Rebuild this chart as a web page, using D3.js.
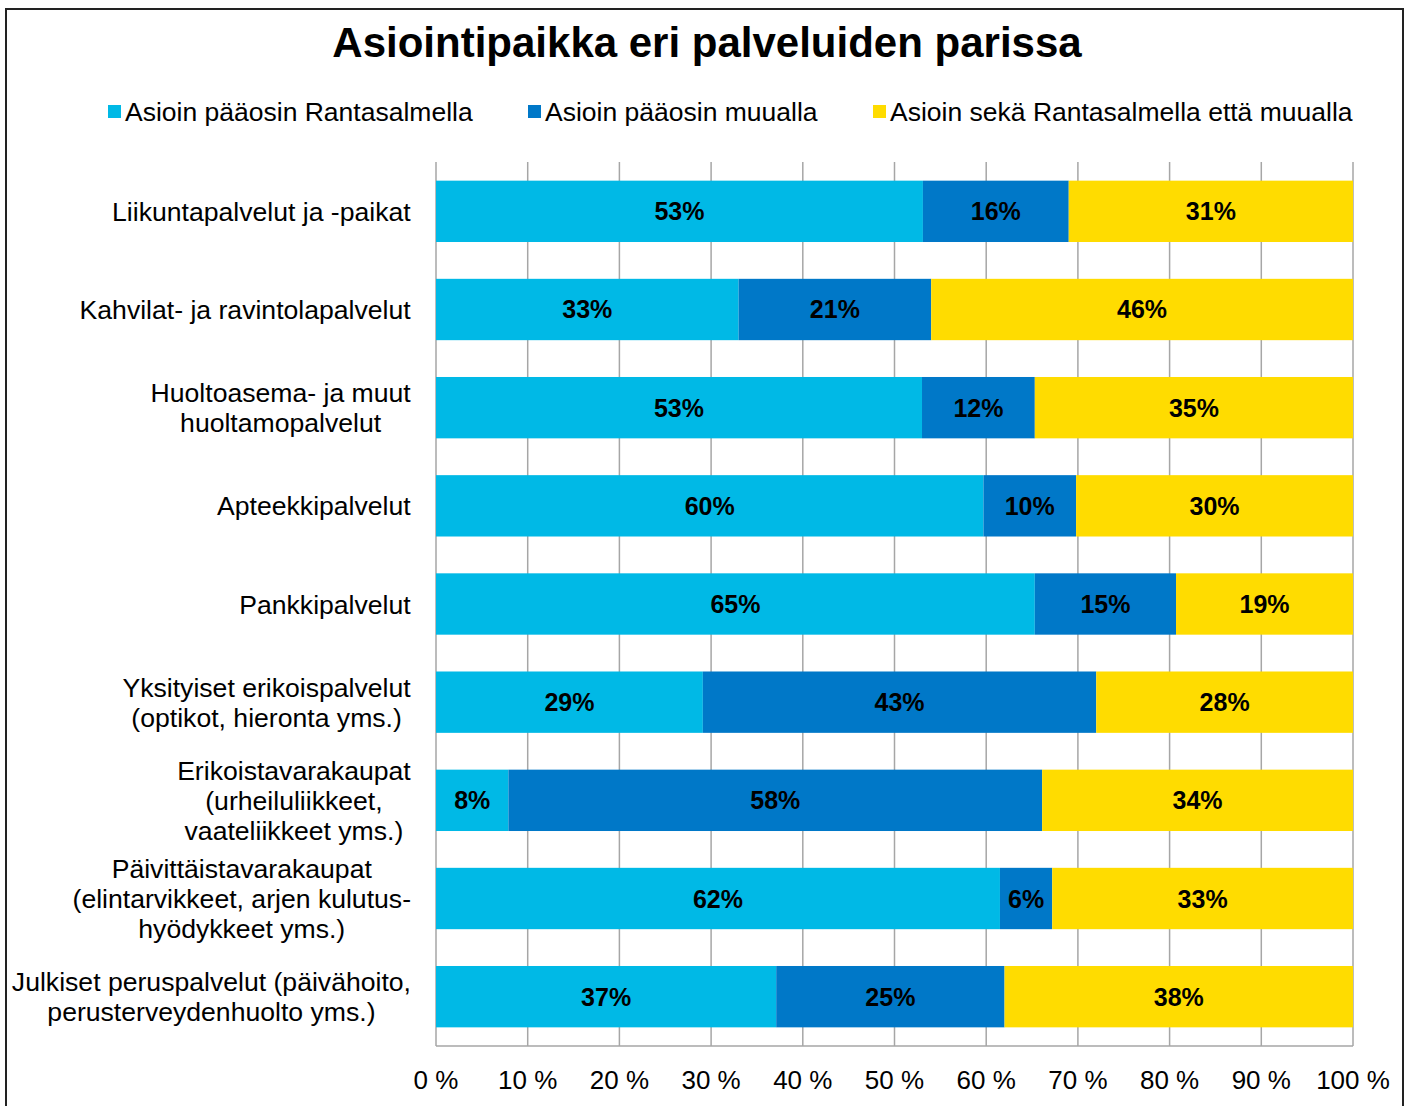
<!DOCTYPE html>
<html>
<head>
<meta charset="utf-8">
<script src="https://cdn.jsdelivr.net/npm/d3@7"></script>
<style>
  body { margin: 0; background: #fff; }
  svg text { font-family: "Liberation Sans", Arial, sans-serif; fill: #000; }
</style>
</head>
<body>
<div id="viz"></div>
<script>
// categories, top to bottom
const categories = [
    "Liikuntapalvelut ja -paikat",
    "Kahvilat- ja ravintolapalvelut",
    "Huoltoasema- ja muut|huoltamopalvelut",
    "Apteekkipalvelut",
    "Pankkipalvelut",
    "Yksityiset erikoispalvelut|(optikot, hieronta yms.)",
    "Erikoistavarakaupat|(urheiluliikkeet,|vaateliikkeet yms.)",
    "Päivittäistavarakaupat|(elintarvikkeet, arjen kulutus-|hyödykkeet yms.)",
    "Julkiset peruspalvelut (päivähoito,|perusterveydenhuolto yms.)"
];
const seriesNames = [
    "Asioin pääosin Rantasalmella",
    "Asioin pääosin muualla",
    "Asioin sekä Rantasalmella että muualla"
];
const rantasalmi = [53.1, 33.0, 53.0, 59.7, 65.3, 29.1, 7.9, 61.5, 37.1];
const muualla    = [15.9, 21.0, 12.3, 10.1, 15.4, 42.9, 58.2, 5.7, 24.9];
const molemmat   = [31.0, 46.0, 34.7, 30.2, 19.3, 28.0, 33.9, 32.8, 38.0];
const colors = ["#00B9E6", "#0078C8", "#FFDC00"];
const ticks = [0, 10, 20, 30, 40, 50, 60, 70, 80, 90, 100];

const width = 1409, height = 1106;

const rows = categories.map((c, i) => ({
    name: c, s0: rantasalmi[i], s1: muualla[i], s2: molemmat[i]
}));

const svg = d3.select("#viz").append("svg")
    .attr("width", width)
    .attr("height", height);

// chart frame
svg.append("rect")
    .attr("x", 6).attr("y", 9)
    .attr("width", 1397).attr("height", 1110)
    .attr("fill", "none")
    .attr("stroke", "#222")
    .attr("stroke-width", 2);

svg.append("text")
    .attr("x", 707).attr("y", 57)
    .attr("text-anchor", "middle")
    .attr("font-size", 42)
    .attr("font-weight", "bold")
    .text("Asiointipaikka eri palveluiden parissa");

// legend
const legendX = [108, 528, 873];
const legend = svg.append("g").selectAll("g")
    .data(seriesNames)
    .enter().append("g")
    .attr("transform", (d, i) => `translate(${legendX[i]},111)`);
legend.append("rect")
    .attr("x", 0).attr("y", -6)
    .attr("width", 13).attr("height", 13)
    .attr("fill", (d, i) => colors[i]);
legend.append("text")
    .attr("x", 17).attr("dy", "0.36em")
    .attr("font-size", 26.5)
    .text(d => d);

const x = d3.scaleLinear().domain([0, 100]).range([436, 1353]);
const y = d3.scaleBand().domain(categories).range([162, 1046]).paddingInner(0.375).paddingOuter(0.19);

// grid
const grid = svg.append("g")
    .attr("stroke", "#a6a6a6")
    .attr("stroke-width", 1.5);
grid.selectAll("line")
    .data(ticks)
    .enter().append("line")
    .attr("x1", d => x(d)).attr("x2", d => x(d))
    .attr("y1", 162).attr("y2", 1046);
grid.append("line")
    .attr("x1", x(0)).attr("x2", x(100))
    .attr("y1", 1046).attr("y2", 1046);

// bars
const stack = d3.stack().keys(["s0", "s1", "s2"])(rows);
const layer = svg.append("g").selectAll("g")
    .data(stack)
    .enter().append("g")
    .attr("fill", (d, i) => colors[i]);
layer.selectAll("rect")
    .data(d => d)
    .enter().append("rect")
    .attr("x", d => x(d[0]))
    .attr("width", d => x(d[1]) - x(d[0]))
    .attr("y", d => y(d.data.name))
    .attr("height", y.bandwidth());
layer.selectAll("text")
    .data(d => d)
    .enter().append("text")
    .attr("x", d => (x(d[0]) + x(d[1])) / 2)
    .attr("y", d => y(d.data.name) + y.bandwidth() / 2)
    .attr("dy", "0.36em")
    .attr("text-anchor", "middle")
    .attr("font-size", 25)
    .attr("font-weight", "bold")
    .text(d => Math.round(d[1] - d[0]) + "%");

// category labels
const catG = svg.append("g").attr("font-size", 26.6);
categories.forEach(c => {
    const lines = c.split("|");
    const t = catG.append("text")
        .attr("text-anchor", "middle");
    const cy = y(c) + y.bandwidth() / 2;
    const lh = 30;
    lines.forEach((l, j) => {
        t.append("tspan")
            .attr("x", 0)
            .attr("y", cy + (j - (lines.length - 1) / 2) * lh)
            .attr("dy", "0.36em")
            .text(l);
    });
    const w = t.node().getBBox().width;
    t.attr("transform", `translate(${411 - w / 2},0)`);
});

// x tick labels
svg.append("g").selectAll("text")
    .data(ticks)
    .enter().append("text")
    .attr("x", d => x(d))
    .attr("y", 1080)
    .attr("dy", "0.36em")
    .attr("text-anchor", "middle")
    .attr("font-size", 26)
    .text(d => d + " %");
</script>
</body>
</html>
